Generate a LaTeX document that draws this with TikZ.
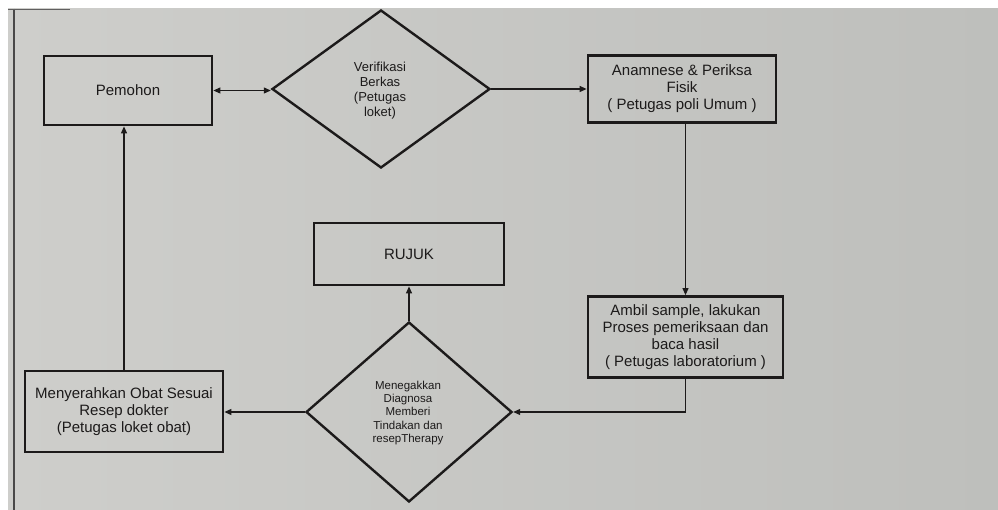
\documentclass[tikz,border=0pt]{standalone}
\usepackage{fontspec}
\setmainfont{Liberation Sans}
\usetikzlibrary{shapes.geometric,arrows.meta}
\definecolor{pageL}{RGB}{206,206,203}
\definecolor{pageR}{RGB}{190,191,188}
\definecolor{ink}{RGB}{28,26,26}
\tikzset{
  box/.style={draw=ink, line width=2.8pt, rectangle, inner sep=0pt, align=center, text=ink,
              font=\fontsize{15}{17}\selectfont},
  decision/.style={draw=ink, line width=2.4pt, diamond, inner sep=0pt, align=center, text=ink},
  conn/.style={draw=ink, line width=1.1pt, -{Triangle[length=7pt,width=6pt]}},
  conn2/.style={draw=ink, line width=1.1pt, {Triangle[length=7pt,width=6pt]}-{Triangle[length=7pt,width=6pt]}},
  plain/.style={draw=ink, line width=1.1pt}
}
\begin{document}
\begin{tikzpicture}[x=1pt,y=-1pt]
\useasboundingbox (0,0) rectangle (998,510);
\fill[white] (0,0) rectangle (998,510);
\shade[left color=pageL, right color=pageR] (8,9) rectangle (998,510);
\draw[ink!80, line width=1.2pt] (14,9) -- (14,510);
\draw[ink!70, line width=1pt] (8,9.5) -- (70,9.5);

% nodes
\node[box, minimum width=168pt, minimum height=69pt] (pemohon) at (128,90.5) {Pemohon};
\node[decision, minimum width=218pt, minimum height=158pt] (verif) at (381,89)
  {};
\node[text=ink, align=center, font=\fontsize{13}{15}\selectfont] (veriftext) at (380,91)
  {Verifikasi\\Berkas\\(Petugas\\loket)};
\node[box, minimum width=188pt, minimum height=67pt] (anam) at (682,89)
  {Anamnese \& Periksa\\Fisik\\( Petugas poli Umum )};
\node[box, minimum width=195pt, minimum height=81pt] (lab) at (685.5,337)
  {Ambil sample, lakukan\\Proses pemeriksaan dan\\baca hasil\\( Petugas laboratorium )};
\node[decision, minimum width=206pt, minimum height=180pt] (diag) at (409,412) {};
\node[text=ink, align=center, font=\fontsize{11.5}{13.4}\selectfont] (diagtext) at (408,413)
  {Menegakkan\\Diagnosa\\Memberi\\Tindakan dan\\resepTherapy};
\node[box, minimum width=190pt, minimum height=62pt] (rujuk) at (409,254) {RUJUK};
\node[box, minimum width=198pt, minimum height=81pt] (obat) at (124,411.5)
  {Menyerahkan Obat Sesuai\\Resep dokter\\(Petugas loket obat)};

% connectors
\draw[conn2] (pemohon.east) -- (verif.west |- pemohon.east);
\draw[conn] (verif.east) -- (anam.west |- verif.east);
\draw[conn] (anam.south -| lab.north) -- (lab.north);
\draw[conn] (lab.south) |- (diag.east);
\draw[conn] (diag.west) -- (obat.east |- diag.west);
\draw[conn] (obat.north) -- (obat.north |- pemohon.south);
\draw[conn] (diag.north) -- (rujuk.south);
\end{tikzpicture}
\end{document}
